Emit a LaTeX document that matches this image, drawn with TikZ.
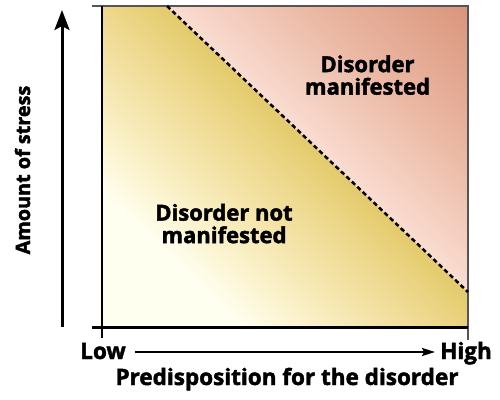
\documentclass[tikz,border=0pt]{standalone}
\usepackage{fontspec}
\setmainfont{Open Sans}[BoldFeatures={FakeBold=2}]
\usetikzlibrary{arrows.meta}
\definecolor{yA}{HTML}{FFFFF0}
\definecolor{yB}{HTML}{FBF2CB}
\definecolor{yC}{HTML}{F3E2A4}
\definecolor{yD}{HTML}{EDD78A}
\definecolor{yE}{HTML}{E6CE74}
\definecolor{yF}{HTML}{E3C96A}
\definecolor{pA}{HTML}{FADDD2}
\definecolor{pB}{HTML}{EAB7A2}
\definecolor{pC}{HTML}{D9937A}
\definecolor{framegray}{HTML}{555555}
\tikzset{
  lbl/.style={font=\bfseries\fontsize{22}{22.5}\selectfont, inner sep=0pt, align=center},
  axlbl/.style={font=\bfseries\fontsize{22.5}{23}\selectfont, inner sep=0pt},
  ylbl/.style={font=\bfseries\fontsize{19.8}{21}\selectfont, inner sep=0pt},
  thinframe/.style={draw=framegray, line width=1.2pt},
  thickaxis/.style={draw=black, line width=2.5pt},
  bigarrow/.style={line width=3pt, -{Stealth[length=20pt,width=15pt,inset=4pt]}},
  smallarrow/.style={line width=2pt, -{Stealth[length=13pt,width=8pt,inset=2pt]}},
  boundary/.style={line width=2.5pt, dash pattern=on 4.5pt off 3pt}
}
% draw a piecewise-linear colour band in the rotated frame
\newcommand{\gradband}[1]{%
  \foreach \da/\db/\ca/\cb in {#1} {%
    \pgfmathsetmacro{\nn}{int(ceil((\db-\da)/2))}%
    \foreach \i in {1,...,\nn} {%
      \pgfmathsetmacro{\xa}{\da+(\i-1)*(\db-\da)/\nn}%
      \pgfmathsetmacro{\xb}{\da+\i*(\db-\da)/\nn+0.8}%
      \pgfmathsetmacro{\pc}{int(100*(\i-0.5)/\nn)}%
      \fill[\cb!\pc!\ca] (\xa,-470) rectangle (\xb,80);
    }%
  }%
}
\begin{document}
\begin{tikzpicture}[x=1pt,y=1pt]
\useasboundingbox (0,0) rectangle (500,399);
\fill[white] (0,0) rectangle (500,399);
% corners
\coordinate (UL) at (102,393);
\coordinate (UR) at (468,393);
\coordinate (LL) at (102,71.5);
\coordinate (LR) at (468,71.5);
\coordinate (dA) at (167,393);
\coordinate (dB) at (468,107);
% yellow region
\begin{scope}
  \clip (UL) -- (dA) -- (dB) -- (LR) -- (LL) -- cycle;
  \begin{scope}[shift={(167,393)}, rotate=46.5]
    \gradband{-300/-180/yA/yA, -180/-135/yA/yB, -135/-80/yB/yC, -80/-42/yC/yD, -42/-12/yD/yE, -12/2/yE/yF}
  \end{scope}
\end{scope}
% pink region
\begin{scope}
  \clip (dA) -- (UR) -- (dB) -- cycle;
  \begin{scope}[shift={(167,393)}, rotate=46.5]
    \gradband{-2/100/pA/pB, 100/212/pB/pC}
  \end{scope}
\end{scope}
% frame
\draw[thinframe] (92,393) -- (UR) -- (468,59);
\draw[thickaxis] (102,393) -- (102,61);
\draw[thickaxis] (92,71.5) -- (LR);
% boundary
\draw[boundary] (dA) -- (dB);
% axis arrows
\coordinate (vtail) at (62,72);
\coordinate (vtip) at (62,389);
\draw[bigarrow] (vtail) -- (vtip);
\coordinate (htail) at (135,47);
\coordinate (htip) at (435,47);
\draw[smallarrow] (htail) -- (htip);
% labels
\node[lbl] (notman) at (224,175.4) {Disorder not\\manifested};
\node[lbl] (man) at (367.5,323.9) {Disorder\\manifested};
\node[axlbl, anchor=base] (low) at (103,40) {Low};
\node[axlbl, anchor=base] (high) at (466,40) {High};
\node[axlbl, anchor=base] (xtitle) at (287,14) {Predisposition for the disorder};
\node[ylbl, anchor=base, rotate=90] (ytitle) at (30,229) {Amount of stress};
\end{tikzpicture}
\end{document}
